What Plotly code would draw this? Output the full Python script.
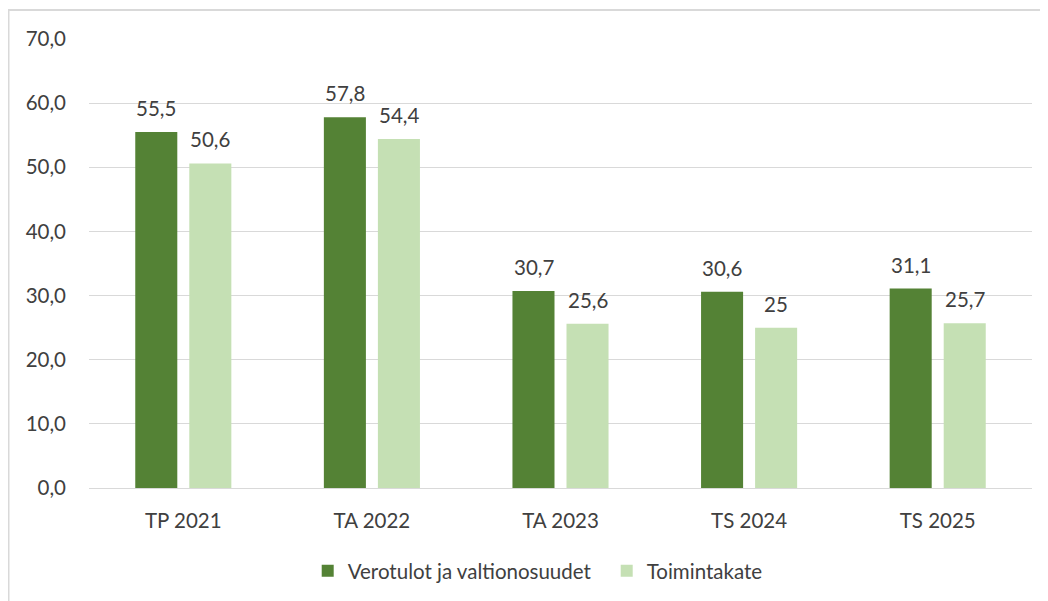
import plotly.graph_objects as go

categories = ["TP 2021", "TA 2022", "TA 2023", "TS 2024", "TS 2025"]
verotulot = [55.5, 57.8, 30.7, 30.6, 31.1]
toimintakate = [50.6, 54.4, 25.6, 25.0, 25.7]
series_names = ["Verotulot ja valtionosuudet", "Toimintakate"]
y_ticks = [0, 10, 20, 30, 40, 50, 60, 70]

DARK = "#548235"
LIGHT = "#C5E0B4"
TEXT = "#404040"
FONT = "Lato, Carlito, Calibri, sans-serif"
FS = 20.5


def fmt(v):
    return f"{v:g}".replace(".", ",")


fig = go.Figure()
fig.add_trace(go.Bar(x=categories, y=verotulot, name=series_names[0],
                     marker=dict(color=DARK, line=dict(width=0))))
fig.add_trace(go.Bar(x=categories, y=toimintakate, name=series_names[1],
                     marker=dict(color=LIGHT, line=dict(width=0))))

annotations = []
for vals, shift in ((verotulot, -27), (toimintakate, 27)):
    for c, v in zip(categories, vals):
        annotations.append(dict(x=c, y=v, text=fmt(v), showarrow=False,
                                xanchor="center", yanchor="bottom",
                                xshift=shift, yshift=10,
                                font=dict(family=FONT, size=FS, color=TEXT)))

# page has an 8px body margin, so figure is 1040x593
W, H = 1040, 593
L, R, T, B = 81, 16, 31, 113
pw, ph = W - L - R, H - T - B
bx0 = (0.5 - L) / pw
bx1 = (W - 1 - L) / pw
by_top = 1 + (T - 2) / ph
by_bot = -(B + 10) / ph

fig.update_layout(
    width=W, height=H,
    margin=dict(l=L, r=R, t=T, b=B, pad=0, autoexpand=False),
    paper_bgcolor="white", plot_bgcolor="white",
    barmode="group", bargap=0.427, bargroupgap=0.222,
    separators=", ",
    font=dict(family=FONT, size=FS, color=TEXT),
    annotations=annotations,
    shapes=[dict(type="path", xref="paper", yref="paper",
                 path=f"M {bx0} {by_bot} L {bx0} {by_top} L {bx1} {by_top}",
                 line=dict(color="#D9D9D9", width=2))],
    legend=dict(orientation="h", x=0.549, xanchor="center", y=-0.14,
                yanchor="top", font=dict(family=FONT, size=FS, color=TEXT),
                itemsizing="constant", traceorder="normal",
                entrywidth=254, entrywidthmode="pixels"),
    xaxis=dict(showgrid=False, showline=True, linecolor="#D9D9D9", linewidth=1,
               ticks="", tickfont=dict(family=FONT, size=FS, color=TEXT),
               ticklabelstandoff=14),
    yaxis=dict(range=[0, 70], tickvals=y_ticks, tickformat=".1f",
               showgrid=True, gridcolor="#D9D9D9", gridwidth=1,
               zeroline=False, showline=False, ticks="",
               tickfont=dict(family=FONT, size=FS, color=TEXT),
               ticklabelstandoff=22),
)

fig.write_html("out.html")
